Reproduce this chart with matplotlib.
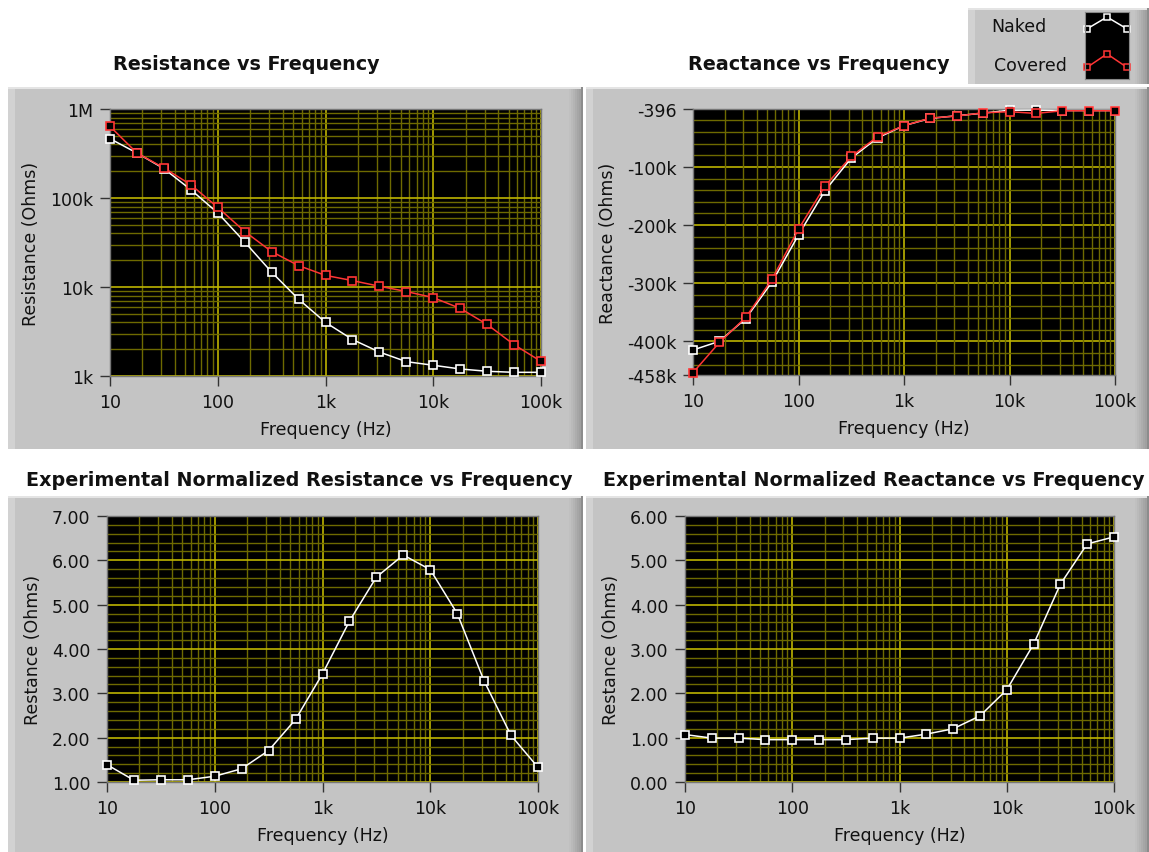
import matplotlib.pyplot as plt
from matplotlib.patches import Rectangle
from matplotlib.ticker import FixedLocator, MultipleLocator, LogLocator, NullFormatter, FuncFormatter

# frequency sweep, 4 points per decade
freq = [10, 17.8, 31.6, 56.2, 100, 178, 316, 562, 1e3, 1.78e3, 3.16e3, 5.62e3,
        1e4, 1.78e4, 3.16e4, 5.62e4, 1e5]

res_naked = [464e3, 320e3, 214e3, 124e3, 68e3, 32e3, 14.7e3, 7.3e3, 4.0e3, 2.57e3,
             1.86e3, 1.45e3, 1.32e3, 1.2e3, 1.13e3, 1.1e3, 1.1e3]
res_covered = [638e3, 320e3, 218e3, 141e3, 78.5e3, 42e3, 25e3, 17.4e3, 13.5e3, 11.8e3,
               10.2e3, 8.9e3, 7.6e3, 5.75e3, 3.8e3, 2.25e3, 1.46e3]

react_naked = [-415e3, -400e3, -361e3, -298e3, -217e3, -141e3, -85e3, -50e3, -29e3,
               -16.5e3, -12e3, -7.5e3, -2.5e3, -2.3e3, -3.0e3, -3.0e3, -3.0e3]
react_covered = [-454e3, -402e3, -359e3, -293e3, -207e3, -133e3, -82e3, -48e3, -29e3,
                 -16e3, -12.5e3, -7e3, -5e3, -8e3, -3.4e3, -3.4e3, -3.4e3]

norm_res = [1.39, 1.04, 1.05, 1.05, 1.13, 1.30, 1.71, 2.41, 3.44, 4.63, 5.62, 6.12,
            5.79, 4.80, 3.28, 2.05, 1.33]
norm_react = [1.07, 0.99, 0.99, 0.955, 0.955, 0.955, 0.955, 0.99, 0.99, 1.08, 1.2,
              1.49, 2.08, 3.11, 4.46, 5.37, 5.53]

freq_ticks = [10, 100, 1e3, 1e4, 1e5]
freq_labels = ['10', '100', '1k', '10k', '100k']

W, H = 1149, 853
MAJOR = '#bdb400'
MINOR = '#6e6a00'
RED = '#ff3535'
FS = 12.5

plt.rcParams['font.family'] = 'DejaVu Sans'

fig = plt.figure(figsize=(W / 100, H / 100), dpi=100)
fig.patch.set_facecolor('white')


def px_rect(x0, y0, x1, y1, color, z=0):
    fig.add_artist(Rectangle((x0 / W, 1 - y1 / H), (x1 - x0) / W, (y1 - y0) / H,
                             transform=fig.transFigure, facecolor=color,
                             edgecolor='none', zorder=z))


def panel(x0, y0, x1, y1):
    # raised grey panel, light on the top/left, shaded towards the right
    px_rect(x0, y0, x1, y1, '#c4c4c4')
    px_rect(x0, y0, x0 + 7, y1, '#d2d2d2')
    px_rect(x0, y0, x1, y0 + 2, '#e4e4e4')
    shades = ['#c0c0c0', '#bababa', '#b4b4b4', '#adadad', '#a6a6a6', '#a0a0a0']
    for i, c in enumerate(shades):
        px_rect(x1 - 14 + i * 2, y0 + 2, x1 - 12 + i * 2, y1, c)
    px_rect(x1 - 2, y0, x1, y1, '#8c8c8c')


panel(8, 88, 583, 450)
panel(586, 88, 1149, 450)
panel(8, 497, 583, 853)
panel(586, 497, 1149, 853)


def add_plot(rect_px, ylabel):
    x0, y0, x1, y1 = rect_px
    ax = fig.add_axes([x0 / W, 1 - y1 / H, (x1 - x0) / W, (y1 - y0) / H])
    ax.set_facecolor('black')
    ax.set_xscale('log')
    ax.set_xlim(10, 1e5)
    ax.xaxis.set_major_locator(FixedLocator(freq_ticks))
    ax.set_xticklabels(freq_labels)
    ax.xaxis.set_minor_locator(LogLocator(base=10, subs=range(2, 10)))
    ax.xaxis.set_minor_formatter(NullFormatter())
    ax.grid(True, which='major', color=MAJOR, lw=1.2, zorder=0)
    ax.grid(True, which='minor', color=MINOR, lw=1.0, zorder=0)
    ax.tick_params(which='major', direction='out', length=7, width=1, color='#333333',
                   labelsize=FS, pad=5, labelcolor='#111111')
    ax.tick_params(which='minor', length=0)
    for s in ax.spines.values():
        s.set_color('#777777')
        s.set_linewidth(1)
    ax.set_xlabel('Frequency (Hz)', fontsize=FS, labelpad=7, color='#111111')
    ax.set_ylabel(ylabel, fontsize=FS, labelpad=7, color='#111111')
    return ax


def draw(ax, y, color):
    ax.plot(freq, y, color=color, lw=1.1, marker='s', ms=5.2, mfc='black',
            mec=color, mew=1.2, zorder=3, clip_on=False)


# resistance, log scale
ax1 = add_plot((110, 110, 541, 377), 'Resistance (Ohms)')
ax1.set_yscale('log')
ax1.set_ylim(1e3, 1e6)
ax1.yaxis.set_major_locator(FixedLocator([1e3, 1e4, 1e5, 1e6]))
ax1.yaxis.set_major_formatter(FuncFormatter(
    lambda v, p: {1e3: '1k', 1e4: '10k', 1e5: '100k', 1e6: '1M'}.get(v, '')))
ax1.yaxis.set_minor_locator(LogLocator(base=10, subs=range(2, 10)))
ax1.yaxis.set_minor_formatter(NullFormatter())
draw(ax1, res_naked, 'white')
draw(ax1, res_covered, RED)

# reactance, linear scale
ax2 = add_plot((693, 110, 1115, 376), 'Reactance (Ohms)')
ax2.set_ylim(-458e3, -396)
ax2.yaxis.set_major_locator(FixedLocator([-458e3, -400e3, -300e3, -200e3, -100e3, -396]))
ax2.yaxis.set_major_formatter(FuncFormatter(
    lambda v, p: '-396' if v > -1e3 else '%dk' % round(v / 1e3)))
ax2.yaxis.set_minor_locator(FixedLocator([-v * 20e3 for v in range(1, 23)]))
ax2.yaxis.grid(False, which='major')
for v in [-400e3, -300e3, -200e3, -100e3]:
    ax2.axhline(v, color=MAJOR, lw=1.2, zorder=0.5)
draw(ax2, react_naked, 'white')
draw(ax2, react_covered, RED)

# normalized resistance
ax3 = add_plot((107, 517, 538, 783), 'Restance (Ohms)')
ax3.set_ylim(1, 7)
ax3.yaxis.set_major_locator(MultipleLocator(1))
ax3.yaxis.set_minor_locator(MultipleLocator(0.2))
ax3.yaxis.set_major_formatter(FuncFormatter(lambda v, p: '%.2f' % v))
draw(ax3, norm_res, 'white')

# normalized reactance
ax4 = add_plot((685, 517, 1114, 783), 'Restance (Ohms)')
ax4.set_ylim(0, 6)
ax4.yaxis.set_major_locator(MultipleLocator(1))
ax4.yaxis.set_minor_locator(MultipleLocator(0.2))
ax4.yaxis.set_major_formatter(FuncFormatter(lambda v, p: '%.2f' % v))
draw(ax4, norm_react, 'white')

titles = [(246, 65, 'Resistance vs Frequency'),
          (819, 65, 'Reactance vs Frequency'),
          (299, 481, 'Experimental Normalized Resistance vs Frequency'),
          (874, 481, 'Experimental Normalized Reactance vs Frequency')]
for x, y, t in titles:
    fig.text(x / W, 1 - y / H, t, ha='center', va='center', fontsize=13.8,
             fontweight='bold', color='#111111')

# legend box with sample plots
panel(968, 9, 1149, 85)
fig.text(1019 / W, 1 - 27 / H, 'Naked', ha='center', va='center', fontsize=FS,
         color='#111111')
fig.text(1030 / W, 1 - 66 / H, 'Covered', ha='center', va='center', fontsize=FS,
         color='#111111')
lg = fig.add_axes([1085 / W, 1 - 80 / H, 44 / W, 67 / H])
lg.set_facecolor('black')
lg.set_xlim(0, 2)
lg.set_ylim(0, 4)
lg.set_xticks([])
lg.set_yticks([])
for s in lg.spines.values():
    s.set_color('#888888')
lg.plot([0.1, 1, 1.9], [3.0, 3.7, 3.0], color='white', lw=1.1, marker='s', ms=4.5,
        mfc='black', mec='white', mew=1.1, clip_on=False)
lg.plot([0.1, 1, 1.9], [0.7, 1.5, 0.7], color=RED, lw=1.1, marker='s', ms=4.5,
        mfc='black', mec=RED, mew=1.1, clip_on=False)

fig.savefig('out.png', dpi=100)
